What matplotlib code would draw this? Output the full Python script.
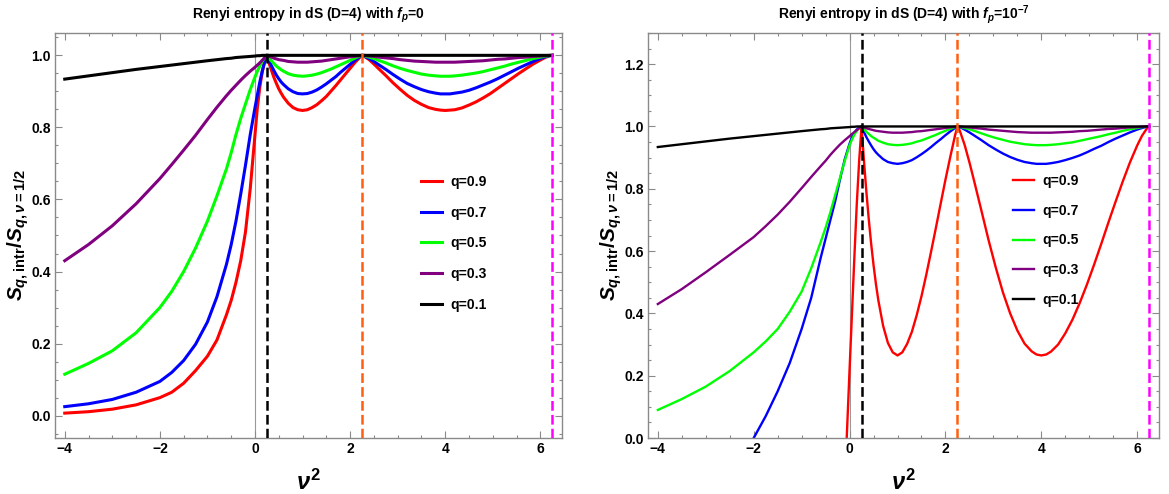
import numpy as np
import matplotlib
matplotlib.use("Agg")
import matplotlib.pyplot as plt
from matplotlib.ticker import MultipleLocator, FormatStrFormatter

plt.rcParams['font.family'] = ['Liberation Sans Narrow', 'Liberation Sans', 'DejaVu Sans']
plt.rcParams['font.weight'] = 'bold'
plt.rcParams['mathtext.fontset'] = 'custom'
plt.rcParams['mathtext.it'] = 'Liberation Sans:bold:italic'
plt.rcParams['mathtext.rm'] = 'Liberation Sans:bold'
plt.rcParams['mathtext.bf'] = 'Liberation Sans:bold'
plt.rcParams['lines.scale_dashes'] = False

nan = float('nan')

# nu^2 sample points shared by every curve
nu2 = [-4, -3.5, -3, -2.5, -2, -1.75, -1.5, -1.25, -1, -0.8, -0.6, -0.5, -0.4, -0.3, -0.2, -0.1,
       0, 0.05, 0.1, 0.15, 0.2, 0.25,
       0.27, 0.3, 0.35, 0.4, 0.45, 0.5, 0.55, 0.6, 0.7, 0.8, 0.9, 1.0, 1.1, 1.2, 1.3, 1.4, 1.5,
       1.6, 1.7, 1.8, 1.9, 2.0, 2.1, 2.2, 2.25,
       2.3, 2.4, 2.5, 2.6, 2.75, 2.9, 3.05, 3.2, 3.35, 3.5, 3.65, 3.8, 3.9, 4.0, 4.1, 4.2, 4.35,
       4.5, 4.65, 4.8, 4.95, 5.1, 5.25, 5.4, 5.55, 5.7, 5.85, 6.0, 6.1, 6.2, 6.25]

# f_p = 0
fp0_q09 = [0.007, 0.011, 0.018, 0.03, 0.05, 0.065, 0.09, 0.125, 0.165, 0.21, 0.28, 0.32, 0.37, 0.43, 0.51, 0.63,
           0.78, 0.855, 0.91, 0.952, 0.982, 1.0,
           0.991, 0.977, 0.957, 0.938, 0.922, 0.907, 0.895, 0.884, 0.867, 0.855, 0.849, 0.847, 0.849, 0.855,
           0.863, 0.874, 0.886, 0.901, 0.916, 0.932, 0.948, 0.964, 0.980, 0.994, 1.0,
           0.997, 0.988, 0.976, 0.963, 0.944, 0.924, 0.906, 0.889, 0.875, 0.864, 0.855, 0.850, 0.848, 0.847,
           0.848, 0.849, 0.854, 0.862, 0.871, 0.882, 0.894, 0.908, 0.922, 0.936, 0.950, 0.963, 0.976, 0.987,
           0.994, 0.999, 1.0]
fp0_q07 = [0.025, 0.033, 0.045, 0.065, 0.095, 0.12, 0.153, 0.198, 0.26, 0.33, 0.42, 0.475, 0.54, 0.615, 0.695, 0.78,
           0.855, 0.89, 0.925, 0.955, 0.98, 1.0,
           0.993, 0.984, 0.970, 0.957, 0.945, 0.935, 0.926, 0.919, 0.907, 0.899, 0.894, 0.893, 0.894, 0.898,
           0.904, 0.912, 0.921, 0.931, 0.941, 0.953, 0.964, 0.975, 0.986, 0.996, 1.0,
           0.998, 0.991, 0.983, 0.974, 0.961, 0.947, 0.934, 0.922, 0.913, 0.905, 0.899, 0.895, 0.893, 0.893,
           0.893, 0.895, 0.898, 0.903, 0.910, 0.918, 0.926, 0.935, 0.945, 0.955, 0.965, 0.974, 0.983, 0.991,
           0.996, 0.999, 1.0]
fp0_q05 = [0.115, 0.145, 0.18, 0.23, 0.30, 0.345, 0.40, 0.465, 0.54, 0.61, 0.685, 0.73, 0.78, 0.825, 0.865, 0.905,
           0.94, 0.956, 0.97, 0.983, 0.993, 1.0,
           0.996, 0.991, 0.984, 0.977, 0.970, 0.965, 0.960, 0.956, 0.949, 0.945, 0.943, 0.942, 0.943, 0.945,
           0.948, 0.952, 0.957, 0.962, 0.968, 0.974, 0.980, 0.986, 0.992, 0.998, 1.0,
           0.999, 0.995, 0.991, 0.986, 0.979, 0.971, 0.964, 0.958, 0.953, 0.948, 0.945, 0.943, 0.942, 0.942,
           0.942, 0.943, 0.945, 0.948, 0.951, 0.955, 0.960, 0.965, 0.970, 0.976, 0.981, 0.986, 0.991, 0.995,
           0.998, 0.999, 1.0]
fp0_q03 = [0.43, 0.475, 0.527, 0.588, 0.658, 0.697, 0.737, 0.778, 0.822, 0.856, 0.888, 0.903, 0.917, 0.931, 0.944, 0.956,
           0.967, 0.973, 0.979, 0.986, 0.993, 1.0,
           0.999, 0.997, 0.995, 0.992, 0.990, 0.988, 0.987, 0.986, 0.983, 0.982, 0.981, 0.981, 0.981, 0.982,
           0.983, 0.984, 0.986, 0.988, 0.990, 0.992, 0.994, 0.996, 0.997, 0.999, 1.0,
           1.0, 0.998, 0.997, 0.995, 0.993, 0.991, 0.988, 0.986, 0.984, 0.983, 0.982, 0.981, 0.981, 0.981,
           0.981, 0.981, 0.982, 0.983, 0.984, 0.985, 0.987, 0.989, 0.990, 0.992, 0.994, 0.995, 0.997, 0.998,
           0.999, 1.0, 1.0]
fp0_q01 = [0.934, 0.943, 0.952, 0.961, 0.969, 0.973, 0.977, 0.981, 0.985, 0.988, 0.991, 0.992, 0.994, 0.995, 0.996, 0.997,
           0.998, 0.999, 0.999, 1.0, 1.0, 1.0,
           1.0, 1.0, 1.0, 1.0, 1.0, 1.0, 1.0, 1.0, 1.0, 1.0, 1.0, 1.0, 1.0, 1.0,
           1.0, 1.0, 1.0, 1.0, 1.0, 1.0, 1.0, 1.0, 1.0, 1.0, 1.0,
           1.0, 1.0, 1.0, 1.0, 1.0, 1.0, 1.0, 1.0, 1.0, 1.0, 1.0, 1.0, 1.0, 1.0,
           1.0, 1.0, 1.0, 1.0, 1.0, 1.0, 1.0, 1.0, 1.0, 1.0, 1.0, 1.0, 1.0, 1.0,
           1.0, 1.0, 1.0]

# f_p = 1e-7
fp7_q09 = [nan, nan, nan, nan, nan, nan, nan, nan, nan, nan, nan, nan, nan, nan, nan, -0.15,
           0.22, 0.40, 0.58, 0.75, 0.89, 1.0,
           0.955, 0.890, 0.791, 0.703, 0.624, 0.555, 0.494, 0.442, 0.360, 0.305, 0.275, 0.265, 0.275, 0.302,
           0.341, 0.394, 0.455, 0.524, 0.598, 0.674, 0.752, 0.829, 0.902, 0.971, 1.0,
           0.986, 0.941, 0.885, 0.824, 0.730, 0.635, 0.547, 0.467, 0.400, 0.345, 0.303, 0.278, 0.268, 0.265,
           0.268, 0.277, 0.300, 0.336, 0.380, 0.433, 0.492, 0.556, 0.623, 0.692, 0.759, 0.824, 0.885, 0.939,
           0.970, 0.993, 1.0]
fp7_q07 = [nan, nan, nan, -0.14, 0.0, 0.07, 0.15, 0.24, 0.35, 0.45, 0.58, 0.64, 0.70, 0.76, 0.83, 0.895,
           0.945, 0.965, 0.98, 0.99, 0.997, 1.0,
           0.993, 0.982, 0.966, 0.952, 0.939, 0.927, 0.917, 0.909, 0.895, 0.886, 0.882, 0.880, 0.882, 0.886,
           0.892, 0.901, 0.911, 0.922, 0.934, 0.947, 0.959, 0.972, 0.984, 0.995, 1.0,
           0.998, 0.990, 0.981, 0.971, 0.956, 0.940, 0.926, 0.913, 0.902, 0.893, 0.886, 0.882, 0.880, 0.880,
           0.880, 0.882, 0.886, 0.892, 0.899, 0.907, 0.917, 0.928, 0.938, 0.950, 0.961, 0.971, 0.981, 0.990,
           0.995, 0.999, 1.0]
fp7_q05 = [0.09, 0.125, 0.165, 0.215, 0.275, 0.31, 0.35, 0.405, 0.47, 0.545, 0.63, 0.675, 0.725, 0.78, 0.835, 0.89,
           0.94, 0.958, 0.974, 0.986, 0.995, 1.0,
           0.996, 0.991, 0.983, 0.976, 0.969, 0.964, 0.959, 0.954, 0.948, 0.943, 0.941, 0.940, 0.941, 0.943,
           0.946, 0.951, 0.955, 0.961, 0.967, 0.973, 0.980, 0.986, 0.992, 0.998, 1.0,
           0.999, 0.995, 0.991, 0.986, 0.978, 0.970, 0.963, 0.957, 0.951, 0.947, 0.943, 0.941, 0.940, 0.940,
           0.940, 0.941, 0.943, 0.946, 0.949, 0.954, 0.959, 0.964, 0.969, 0.975, 0.980, 0.986, 0.991, 0.995,
           0.998, 0.999, 1.0]
fp7_q03 = [0.43, 0.478, 0.532, 0.588, 0.645, 0.68, 0.717, 0.758, 0.802, 0.838, 0.873, 0.89, 0.909, 0.926, 0.942, 0.956,
           0.969, 0.976, 0.982, 0.988, 0.994, 1.0,
           0.999, 0.997, 0.994, 0.992, 0.990, 0.988, 0.986, 0.985, 0.983, 0.981, 0.980, 0.980, 0.980, 0.981,
           0.982, 0.984, 0.985, 0.987, 0.989, 0.991, 0.993, 0.995, 0.997, 0.999, 1.0,
           1.0, 0.998, 0.997, 0.995, 0.993, 0.990, 0.988, 0.986, 0.984, 0.982, 0.981, 0.980, 0.980, 0.980,
           0.980, 0.980, 0.981, 0.982, 0.983, 0.985, 0.986, 0.988, 0.990, 0.992, 0.993, 0.995, 0.997, 0.998,
           0.999, 1.0, 1.0]
fp7_q01 = fp0_q01

q_labels = ['q=0.9', 'q=0.7', 'q=0.5', 'q=0.3', 'q=0.1']
q_colors = ['#FF0000', '#0000FF', '#00FF00', '#800080', '#000000']

# half-integer nu: nu^2 = 1/4, 9/4, 25/4
marker_lines = [0.25, 2.25, 6.25]
marker_colors = ['#000000', '#FF5F0F', '#FF00FF']

panels = [
    dict(series=[fp0_q09, fp0_q07, fp0_q05, fp0_q03, fp0_q01], title='Renyi entropy in dS (D=4) with $f_p$=0',
         ylim=(-0.062, 1.062), lw=2.2, left=55, width=507, legend_xy=(421, 175), legend_gap=1.2),
    dict(series=[fp7_q09, fp7_q07, fp7_q05, fp7_q03, fp7_q01], title='Renyi entropy in dS (D=4) with $f_p$=10$^{-7}$',
         ylim=(0.0, 1.3), lw=1.7, left=648, width=511, legend_xy=(1013, 174), legend_gap=1.13),
]

W, H = 1169, 494
fig = plt.figure(figsize=(W / 100, H / 100), dpi=100)
top, bottom = 33, 438

for p in panels:
    ax = fig.add_axes([p['left'] / W, 1 - bottom / H, p['width'] / W, (bottom - top) / H])
    ax.axvline(0, color='#999999', lw=0.8, zorder=1)
    for ys, lab, c in zip(p['series'], q_labels, q_colors):
        ax.plot(nu2, ys, color=c, lw=p['lw'], label=lab, zorder=2, solid_joinstyle='round')
    for xv, c in zip(marker_lines, marker_colors):
        ax.axvline(xv, color=c, lw=1.8, dashes=(7, 3), zorder=3)

    ax.set_xlim(-4.205, 6.455)
    ax.set_ylim(*p['ylim'])
    ax.xaxis.set_major_locator(MultipleLocator(2))
    ax.xaxis.set_minor_locator(MultipleLocator(0.5))
    ax.yaxis.set_major_locator(MultipleLocator(0.2))
    ax.yaxis.set_minor_locator(MultipleLocator(0.05))
    ax.yaxis.set_major_formatter(FormatStrFormatter('%.1f'))
    ax.tick_params(which='both', direction='in', top=True, right=True, color='#8a8a8a', width=0.8,
                   labelsize=10, pad=3)
    ax.tick_params(which='major', length=5)
    ax.tick_params(which='minor', length=2.5)
    for s in ax.spines.values():
        s.set_color('#8a8a8a')
        s.set_linewidth(1.0)

    ax.text(0.5, 1 + 18 / (bottom - top), p['title'], transform=ax.transAxes,
            ha='center', va='center', fontsize=10, fontweight='bold')

    cx = (p['left'] + p['width'] / 2) / W
    fig.text(cx, 1 - 482 / H, r'$\nu^2$', ha='center', va='center', fontsize=17)
    fig.text((p['left'] - 37) / W, 1 - 235 / H, r'$S_{q,\mathrm{intr}}/S_{q,\nu=1/2}$',
             rotation=90, ha='center', va='center', fontsize=15)

    lx, ly = p['legend_xy']
    ax.legend(loc='upper left', bbox_to_anchor=(lx / W, 1 - ly / H), bbox_transform=fig.transFigure,
              frameon=False, fontsize=10, handlelength=1.5, handletextpad=0.6, labelspacing=p['legend_gap'],
              borderpad=0, borderaxespad=0)

fig.savefig('out.png', dpi=100)
